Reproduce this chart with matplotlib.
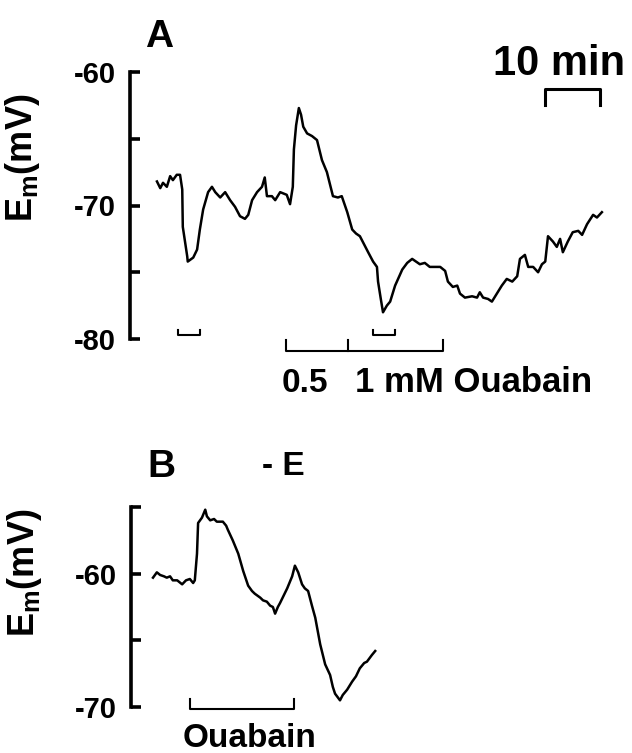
import matplotlib
matplotlib.use("Agg")
import matplotlib.pyplot as plt

plt.rcParams["font.family"] = ["Liberation Sans", "DejaVu Sans"]
plt.rcParams["font.weight"] = "bold"
plt.rcParams["mathtext.fontset"] = "custom"
plt.rcParams["mathtext.bf"] = "Liberation Sans:bold"
plt.rcParams["mathtext.rm"] = "Liberation Sans:bold"

# panel A trace: time (min), membrane potential (mV)
t_a = [4.9, 5.5, 6.0, 6.7, 7.3, 7.8, 8.5, 9.1, 9.5, 9.6, 10.4, 10.5, 11.5, 12.2,
       12.7, 13.3, 14.2, 14.9, 15.5, 16.4, 17.3, 18.2, 19.1, 20.0, 20.9, 21.5,
       22.2, 23.1, 24.0, 24.5, 24.9, 25.8, 26.4, 27.3, 28.5, 29.1, 29.6,
       29.8, 30.2, 30.7, 31.1, 31.5, 32.2, 33.1, 34.0, 34.9, 35.8, 36.9, 37.8,
       38.5, 39.5, 40.4, 41.1, 41.8, 43.3, 44.2, 44.9, 45.1, 45.6, 46.0, 46.7,
       47.3, 48.2, 49.5, 50.4, 51.3, 52.7, 53.6, 54.5,
       56.4, 57.3, 57.8, 58.7, 59.5, 60.0, 60.9, 62.2, 63.1, 63.6, 64.2, 65.1,
       65.8, 66.4, 67.6, 68.5, 69.5, 70.4, 70.9, 71.8, 72.4, 73.3, 74.2, 74.9,
       75.5, 76.0, 76.9, 77.6, 78.2, 78.7, 79.6, 80.5, 81.5, 82.2, 83.1, 84.2,
       84.9, 85.8]
em_a = [-68.2, -68.7, -68.3, -68.6, -67.8, -68.1, -67.7, -67.7, -68.8, -71.6,
        -73.8, -74.2, -73.9, -73.3, -71.8, -70.3, -69.0, -68.6, -69.0, -69.4,
        -69.0, -69.6, -70.1, -70.8, -71.0, -70.7, -69.6, -69.0, -68.6, -67.9,
        -69.3, -69.3, -69.6, -69.0, -69.2, -69.9, -68.6,
        -65.8, -64.0, -62.7, -63.2, -64.1, -64.6, -64.8, -65.1, -66.6, -67.5,
        -69.3, -69.4, -69.3, -70.5, -71.8, -72.1, -72.3, -73.5, -74.2, -74.6,
        -75.7, -77.0, -78.0, -77.5, -77.2, -76.0, -74.8, -74.3, -74.0, -74.4,
        -74.3, -74.6,
        -74.6, -74.9, -75.7, -76.1, -76.0, -76.6, -76.9, -76.8, -76.9, -76.5,
        -76.9, -77.0, -77.2, -76.8, -76.0, -75.5, -75.7, -75.3, -74.0, -73.7,
        -74.6, -74.6, -75.0, -74.4, -74.2, -72.3, -72.7, -73.1, -72.5, -73.5,
        -72.7, -72.0, -71.9, -72.2, -71.4, -70.7, -70.9, -70.5]

# panel B trace
t_b = [4.0, 4.7, 5.3, 6.0, 6.5, 7.1, 7.6, 8.4, 9.3, 10.0, 10.7, 11.3, 11.6, 12.0,
       12.2, 12.9, 13.5, 13.8, 14.4, 15.1, 15.6, 16.7, 17.3, 17.6, 18.5, 19.5,
       20.4, 21.3, 22.0, 22.5, 23.5, 24.0, 24.7, 25.3, 25.8, 26.2, 26.7, 27.1,
       28.4, 29.3, 29.8, 30.4, 31.1, 31.6, 32.2, 32.9, 33.5, 34.4, 35.3, 36.2,
       36.7, 37.1, 38.0, 38.5, 39.3, 40.2, 40.9, 41.6, 42.4, 42.9, 43.8, 44.4]
em_b = [-60.3, -59.9, -60.1, -60.2, -60.3, -60.2, -60.5, -60.5, -60.8, -60.5,
        -60.4, -60.7, -60.5, -58.5, -56.2, -55.8, -55.2, -55.7, -56.0, -55.9,
        -56.1, -56.1, -56.4, -56.7, -57.5, -58.5, -59.8, -60.9, -61.3, -61.5,
        -61.8, -62.0, -62.1, -62.4, -62.5, -63.0, -62.5, -62.2, -61.1, -60.2,
        -59.4, -59.9, -60.8, -61.1, -61.3, -62.4, -63.3, -65.3, -66.8, -67.6,
        -68.5, -69.0, -69.5, -69.1, -68.7, -68.1, -67.7, -67.1, -66.7, -66.6,
        -66.1, -65.8]

# application bars (start, end in min)
small_bars_a = [(8.7, 12.7), (44.2, 48.2)]
ouabain_a = [28.4, 39.6, 56.9]   # 0.5 mM start, 1 mM start, washout
ouabain_b = (10.7, 29.6)
scale_bar = (75.5, 85.5)          # 10 min

W, H = 632, 753
fig = plt.figure(figsize=(W / 100, H / 100), dpi=100)


def fx(px):
    return px / W


def fy(py):
    return 1 - py / H


def style_axis(ax, lo, hi, labels):
    for s in ["top", "right", "bottom"]:
        ax.spines[s].set_visible(False)
    ax.spines["left"].set_linewidth(2.6)
    ax.spines["left"].set_bounds(lo, hi)
    ax.set_ylim(lo, hi)
    ticks = list(range(int(lo), int(hi) + 1, 5))
    ax.set_yticks(ticks)
    ax.set_yticklabels([str(t) if t in labels else "" for t in ticks])
    ax.tick_params(axis="y", direction="in", length=7, width=2.6, pad=10,
                   labelsize=21)
    ax.set_xticks([])
    ax.patch.set_visible(False)


# ---- panel A
axA = fig.add_axes([fx(130), fy(339), 480 / W, (339 - 72) / H])
axA.plot(t_a, em_a, color="black", lw=1.8, clip_on=False)
axA.set_xlim(0, 480 / 5.5)
style_axis(axA, -80, -60, [-60, -70, -80])

for a, b in small_bars_a:
    axA.plot([a, a, b, b], [-79.3, -79.7, -79.7, -79.3], color="black", lw=1.5,
             clip_on=False)
axA.plot([ouabain_a[0], ouabain_a[0], ouabain_a[2], ouabain_a[2]],
         [-80.1, -80.9, -80.9, -80.1], color="black", lw=1.5, clip_on=False)
axA.plot([ouabain_a[1], ouabain_a[1]], [-80.1, -80.9], color="black", lw=1.5,
         clip_on=False)
axA.plot([scale_bar[0], scale_bar[0], scale_bar[1], scale_bar[1]],
         [-62.5, -61.3, -61.3, -62.5], color="black", lw=2.2, clip_on=False)

# ---- panel B
axB = fig.add_axes([fx(131), fy(707), 480 / W, (707 - 507) / H])
axB.plot(t_b, em_b, color="black", lw=1.8, clip_on=False)
axB.set_xlim(0, 480 / 5.5)
style_axis(axB, -70, -55, [-60, -70])
axB.plot([ouabain_b[0], ouabain_b[0], ouabain_b[1], ouabain_b[1]],
         [-69.4, -70.15, -70.15, -69.4], color="black", lw=1.5, clip_on=False)

# ---- text
ylab = "E$_\\mathbf{m}$(mV)"
fig.text(fx(22), fy(158), ylab, rotation=90, fontsize=26, ha="center", va="center")
fig.text(fx(24), fy(573), ylab, rotation=90, fontsize=26, ha="center", va="center")
fig.text(fx(145), fy(47), "A", fontsize=28, fontweight="bold", va="baseline")
fig.text(fx(147), fy(477), "B", fontsize=28, fontweight="bold", va="baseline")
fig.text(fx(493), fy(75), "10 min", fontsize=30, va="baseline")
fig.text(fx(282), fy(392), "0.5", fontsize=24, va="baseline")
fig.text(fx(355), fy(392), "1 mM Ouabain", fontsize=25, va="baseline")
fig.text(fx(262), fy(475), "- E", fontsize=24, va="baseline")
fig.text(fx(250), fy(747), "Ouabain", fontsize=24, ha="center", va="baseline")

fig.savefig("out.png", dpi=100)
